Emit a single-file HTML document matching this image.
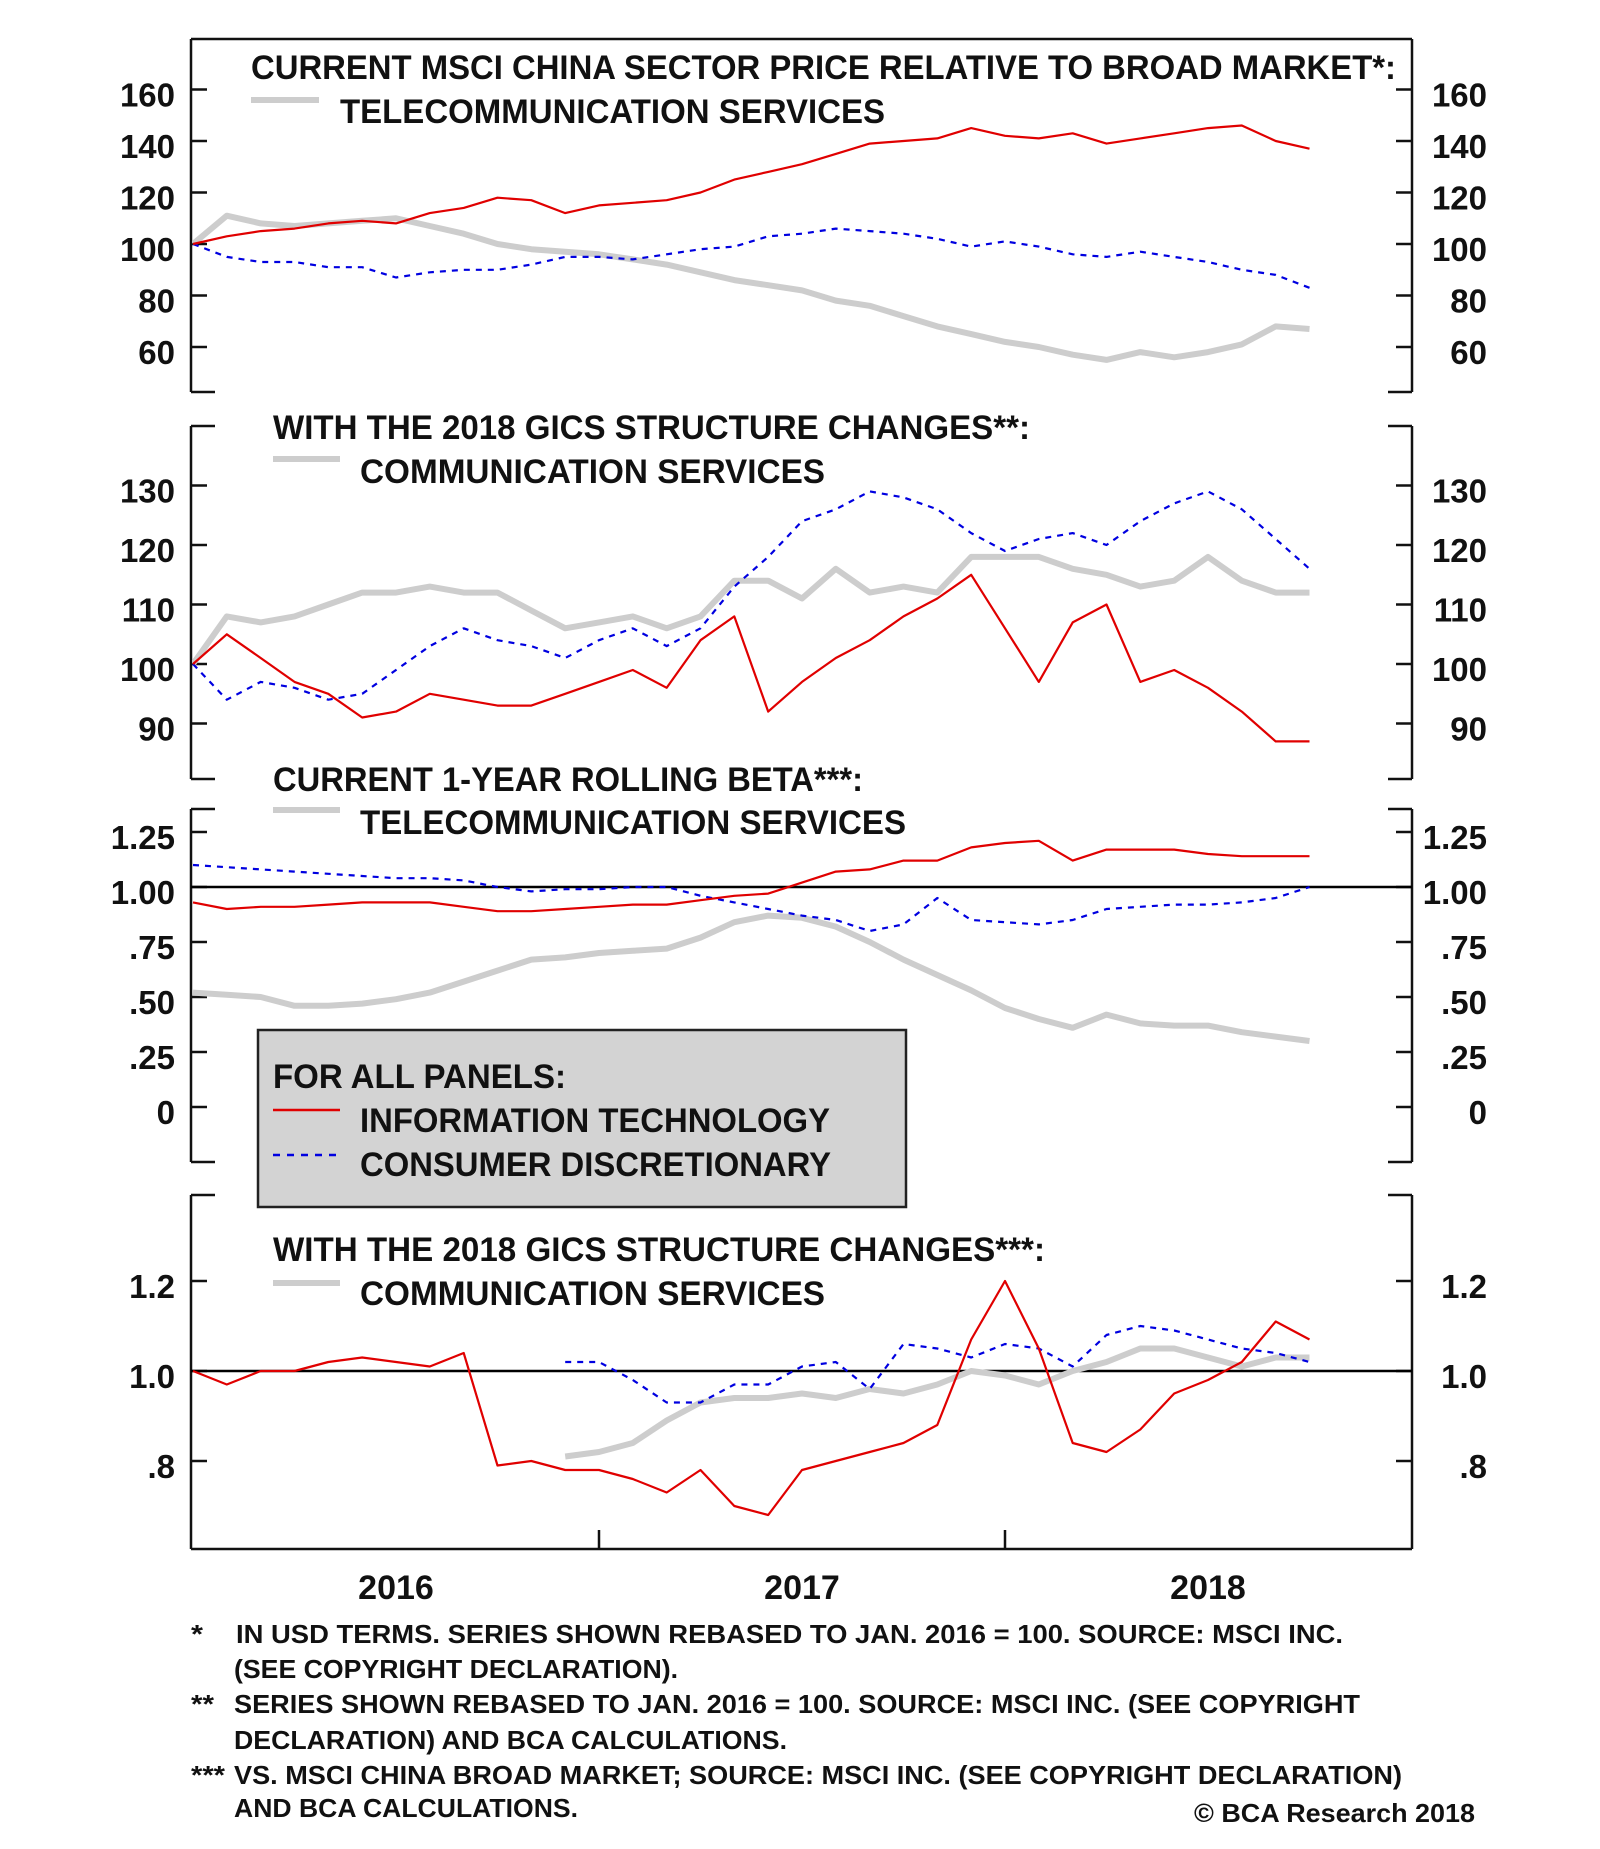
<!DOCTYPE html>
<html><head><meta charset="utf-8"><style>
html,body{margin:0;padding:0;background:#fff;}
svg{display:block;}
text{font-family:"Liberation Sans",sans-serif;font-weight:bold;fill:#111;}
</style></head><body>
<svg id="chart" width="1600" height="1849" viewBox="0 0 1600 1849" xmlns="http://www.w3.org/2000/svg">
<defs>
<clipPath id="c1"><rect x="192" y="40" width="1219" height="351"/></clipPath>
<clipPath id="c2"><rect x="192" y="427" width="1219" height="351"/></clipPath>
<clipPath id="c3"><rect x="192" y="810" width="1219" height="351"/></clipPath>
<clipPath id="c4"><rect x="192" y="1196" width="1219" height="352"/></clipPath>
</defs>
<g id="frames" stroke="#111" stroke-width="2.5" fill="none"></g>
<g id="series"></g>
<g id="texts"></g>
</svg>
<script>
const months = [0,1,2,3,4,5,6,7,8,9,10,11,12,13,14,15,16,17,18,19,20,21,22,23,24,25,26,27,28,29,30,31,32,33];
const p1IT = [100,103,105,106,108,109,108,112,114,118,117,112,115,116,117,120,125,128,131,135,139,140,141,145,142,141,143,139,141,143,145,146,140,137];
const p1CD = [100,95,93,93,91,91,87,89,90,90,92,95,95,94,96,98,99,103,104,106,105,104,102,99,101,99,96,95,97,95,93,90,88,83];
const p1TEL = [100,111,108,107,108,109,110,107,104,100,98,97,96,94,92,89,86,84,82,78,76,72,68,65,62,60,57,55,58,56,58,61,68,67];
const p2IT = [100,105,101,97,95,91,92,95,94,93,93,95,97,99,96,104,108,92,97,101,104,108,111,115,106,97,107,110,97,99,96,92,87,87];
const p2CD = [100,94,97,96,94,95,99,103,106,104,103,101,104,106,103,106,113,118,124,126,129,128,126,122,119,121,122,120,124,127,129,126,121,116];
const p2COM = [100,108,107,108,110,112,112,113,112,112,109,106,107,108,106,108,114,114,111,116,112,113,112,118,118,118,116,115,113,114,118,114,112,112];
const p3IT = [0.93,0.90,0.91,0.91,0.92,0.93,0.93,0.93,0.91,0.89,0.89,0.90,0.91,0.92,0.92,0.94,0.96,0.97,1.02,1.07,1.08,1.12,1.12,1.18,1.20,1.21,1.12,1.17,1.17,1.17,1.15,1.14,1.14,1.14];
const p3CD = [1.10,1.09,1.08,1.07,1.06,1.05,1.04,1.04,1.03,1.00,0.98,0.99,0.99,1.00,1.00,0.96,0.93,0.90,0.87,0.85,0.80,0.83,0.95,0.85,0.84,0.83,0.85,0.90,0.91,0.92,0.92,0.93,0.95,1.00];
const p3TEL = [0.52,0.51,0.50,0.46,0.46,0.47,0.49,0.52,0.57,0.62,0.67,0.68,0.70,0.71,0.72,0.77,0.84,0.87,0.86,0.82,0.75,0.67,0.60,0.53,0.45,0.40,0.36,0.42,0.38,0.37,0.37,0.34,0.32,0.30];
const p4IT = [1.00,0.97,1.00,1.00,1.02,1.03,1.02,1.01,1.04,0.79,0.80,0.78,0.78,0.76,0.73,0.78,0.70,0.68,0.78,0.80,0.82,0.84,0.88,1.07,1.20,1.05,0.84,0.82,0.87,0.95,0.98,1.02,1.11,1.07];
const p4CD = [null,null,null,null,null,null,null,null,null,null,null,1.02,1.02,0.98,0.93,0.93,0.97,0.97,1.01,1.02,0.96,1.06,1.05,1.03,1.06,1.05,1.01,1.08,1.10,1.09,1.07,1.05,1.04,1.02];
const p4COM = [null,null,null,null,null,null,null,null,null,null,null,0.81,0.82,0.84,0.89,0.93,0.94,0.94,0.95,0.94,0.96,0.95,0.97,1.00,0.99,0.97,1.00,1.02,1.05,1.05,1.03,1.01,1.03,1.03];
const p1Ticks = [160,140,120,100,80,60];
const p2Ticks = [130,120,110,100,90];
const p3Ticks = [1.25,1.00,0.75,0.50,0.25,0];
const p3Labels = ["1.25","1.00",".75",".50",".25","0"];
const p4Ticks = [1.2,1.0,0.8];
const p4Labels = ["1.2","1.0",".8"];
const yearLabels = ["2016","2017","2018"];

const NS="http://www.w3.org/2000/svg";
function mk(tag,attrs,parent){const e=document.createElementNS(NS,tag);for(const k in attrs)e.setAttribute(k,attrs[k]);parent.appendChild(e);return e;}
const X0=193, YEARPX=406;
function xOf(m){return X0+m*YEARPX/12;}
const y1=v=>244-(v-100)*2.575;
const y2=v=>664-(v-100)*5.95;
const y3=v=>887-(v-1)*220;
const y4=v=>1371-(v-1)*450;
const fr=document.getElementById('frames'), sr=document.getElementById('series'), tx=document.getElementById('texts');

function bracketPanel(top,bot,fullTop,fullBot,name){
  const L=191,R=1412,s=24;
  const g=mk('g',{},fr);
  
  
  mk('line',{x1:L,y1:top,x2:L,y2:bot},g);
  mk('line',{x1:R,y1:top,x2:R,y2:bot},g);
  if(fullTop) mk('line',{x1:L,y1:top,x2:R,y2:top},g); else {mk('line',{x1:L,y1:top,x2:L+s,y2:top},g);mk('line',{x1:R-s,y1:top,x2:R,y2:top},g);}
  if(fullBot) mk('line',{x1:L,y1:bot,x2:R,y2:bot},g); else {mk('line',{x1:L,y1:bot,x2:L+s,y2:bot},g);mk('line',{x1:R-s,y1:bot,x2:R,y2:bot},g);}
  return g;
}
function ticks(vals,labels,yf,name){
  vals.forEach((v,i)=>{
    const y=yf(v);
    mk('line',{x1:191,y1:y,x2:207,y2:y},fr);
    mk('line',{x1:1396,y1:y,x2:1412,y2:y},fr);
    const a=mk('text',{x:175,y:y+17,'text-anchor':'end','font-size':33},tx);
    a.textContent=labels[i];
    
    
    const b=mk('text',{x:1487,y:y+17,'text-anchor':'end','font-size':33},tx);
    b.textContent=labels[i];
    
    
  });
}
bracketPanel(39,392,true,false,'panel-1-frame');
bracketPanel(426,779,false,false,'panel-2-frame');
bracketPanel(809,1162,false,false,'panel-3-frame');
bracketPanel(1195,1549,false,true,'panel-4-frame');
ticks(p1Ticks,p1Ticks.map(String),y1,'panel-1-y');
ticks(p2Ticks,p2Ticks.map(String),y2,'panel-2-y');
ticks(p3Ticks,p3Labels,y3,'panel-3-y');
ticks(p4Ticks,p4Labels,y4,'panel-4-y');
[12,24].forEach(m=>{mk('line',{x1:xOf(m),y1:1549,x2:xOf(m),y2:1530},fr);});
const r1=mk('line',{x1:191,y1:y3(1),x2:1412,y2:y3(1),stroke:'#000','stroke-width':2.5},fr);


const r2=mk('line',{x1:191,y1:y4(1),x2:1412,y2:y4(1),stroke:'#000','stroke-width':2.5},fr);



function series(arr,yf,clip,kind,name){
  let d='',pen=false;
  arr.forEach((v,i)=>{if(v===null){pen=false;return;}d+=(pen?'L':'M')+xOf(months[i]).toFixed(1)+' '+yf(v).toFixed(1)+' ';pen=true;});
  const st={gray:{stroke:'#cdcdcd','stroke-width':6},red:{stroke:'#e00000','stroke-width':2.2},blue:{stroke:'#0000e0','stroke-width':2.2,'stroke-dasharray':'6 6'}}[kind];
  const a=Object.assign({d:d,fill:'none','clip-path':'url(#'+clip+')','stroke-linejoin':'round'},st);
  const p=mk('path',a,sr);
  
  
}
series(p1TEL,y1,'c1','gray','panel-1-telecom-line');
series(p1CD,y1,'c1','blue','panel-1-consumer-line');
series(p1IT,y1,'c1','red','panel-1-it-line');
series(p2COM,y2,'c2','gray','panel-2-communication-line');
series(p2CD,y2,'c2','blue','panel-2-consumer-line');
series(p2IT,y2,'c2','red','panel-2-it-line');
series(p3TEL,y3,'c3','gray','panel-3-telecom-line');
series(p3CD,y3,'c3','blue','panel-3-consumer-line');
series(p3IT,y3,'c3','red','panel-3-it-line');
series(p4COM,y4,'c4','gray','panel-4-communication-line');
series(p4CD,y4,'c4','blue','panel-4-consumer-line');
series(p4IT,y4,'c4','red','panel-4-it-line');

const lb=mk('rect',{x:258,y:1030,width:648,height:177,fill:'#d3d3d3',stroke:'#222','stroke-width':2.5},tx);



function label(s,x,y,x2,size,name){
  const t=mk('text',{x:x,y:y,'font-size':size,textLength:x2-x,lengthAdjust:'spacingAndGlyphs'},tx);
  t.textContent=s;
  
  
  return t;
}
function swatch(y,kind,name){
  const st={gray:{stroke:'#cdcdcd','stroke-width':6},red:{stroke:'#e00000','stroke-width':2.5},blue:{stroke:'#0000e0','stroke-width':2.5,'stroke-dasharray':'7 7'}}[kind];
  const l=mk('line',Object.assign({x1:273,y1:y,x2:340,y2:y},st),tx);
  
  
}
label('CURRENT MSCI CHINA SECTOR PRICE RELATIVE TO BROAD MARKET*:',251,79,1396,34,'panel-1-title');
const g1=mk('line',{x1:251,y1:100,x2:319,y2:100,stroke:'#cdcdcd','stroke-width':6},tx);


label('TELECOMMUNICATION SERVICES',340,123,885,34,'panel-1-telecom-label');
label('WITH THE 2018 GICS STRUCTURE CHANGES**:',273,439,1030,34,'panel-2-title');
swatch(459,'gray','panel-2-communication-swatch');
label('COMMUNICATION SERVICES',360,483,825,34,'panel-2-communication-label');
label('CURRENT 1-YEAR ROLLING BETA***:',273,791,863,34,'panel-3-title');
swatch(810,'gray','panel-3-telecom-swatch');
label('TELECOMMUNICATION SERVICES',360,834,906,34,'panel-3-telecom-label');
label('FOR ALL PANELS:',273,1088,566,34,'legend-title');
swatch(1110,'red','legend-it-swatch');
label('INFORMATION TECHNOLOGY',360,1132,830,34,'legend-it-label');
swatch(1155,'blue','legend-consumer-swatch');
label('CONSUMER DISCRETIONARY',360,1176,831,34,'legend-consumer-label');
label('WITH THE 2018 GICS STRUCTURE CHANGES***:',273,1261,1045,34,'panel-4-title');
swatch(1283,'gray','panel-4-communication-swatch');
label('COMMUNICATION SERVICES',360,1305,825,34,'panel-4-communication-label');

yearLabels.forEach((s,i)=>{
  const t=mk('text',{x:xOf(6+12*i),y:1599,'text-anchor':'middle','font-size':34},tx);
  t.textContent=s;
  
  
});
label('*',191,1643,203,26,'footnote-1-marker');
label('IN USD TERMS. SERIES SHOWN REBASED TO JAN. 2016 = 100. SOURCE: MSCI INC.',236,1643,1343,26,'footnote-1');
label('(SEE COPYRIGHT DECLARATION).',234,1678,678,26,'footnote-1-cont');
label('**',191,1713,214,26,'footnote-2-marker');
label('SERIES SHOWN REBASED TO JAN. 2016 = 100. SOURCE: MSCI INC. (SEE COPYRIGHT',234,1713,1360,26,'footnote-2');
label('DECLARATION) AND BCA CALCULATIONS.',234,1749,787,26,'footnote-2-cont');
label('***',191,1784,225,26,'footnote-3-marker');
label('VS. MSCI CHINA BROAD MARKET; SOURCE: MSCI INC. (SEE COPYRIGHT DECLARATION)',234,1784,1402,26,'footnote-3');
label('AND BCA CALCULATIONS.',234,1817,578,26,'footnote-3-cont');
label('© BCA Research 2018',1194,1822,1475,26,'copyright');
</script>
</body></html>
